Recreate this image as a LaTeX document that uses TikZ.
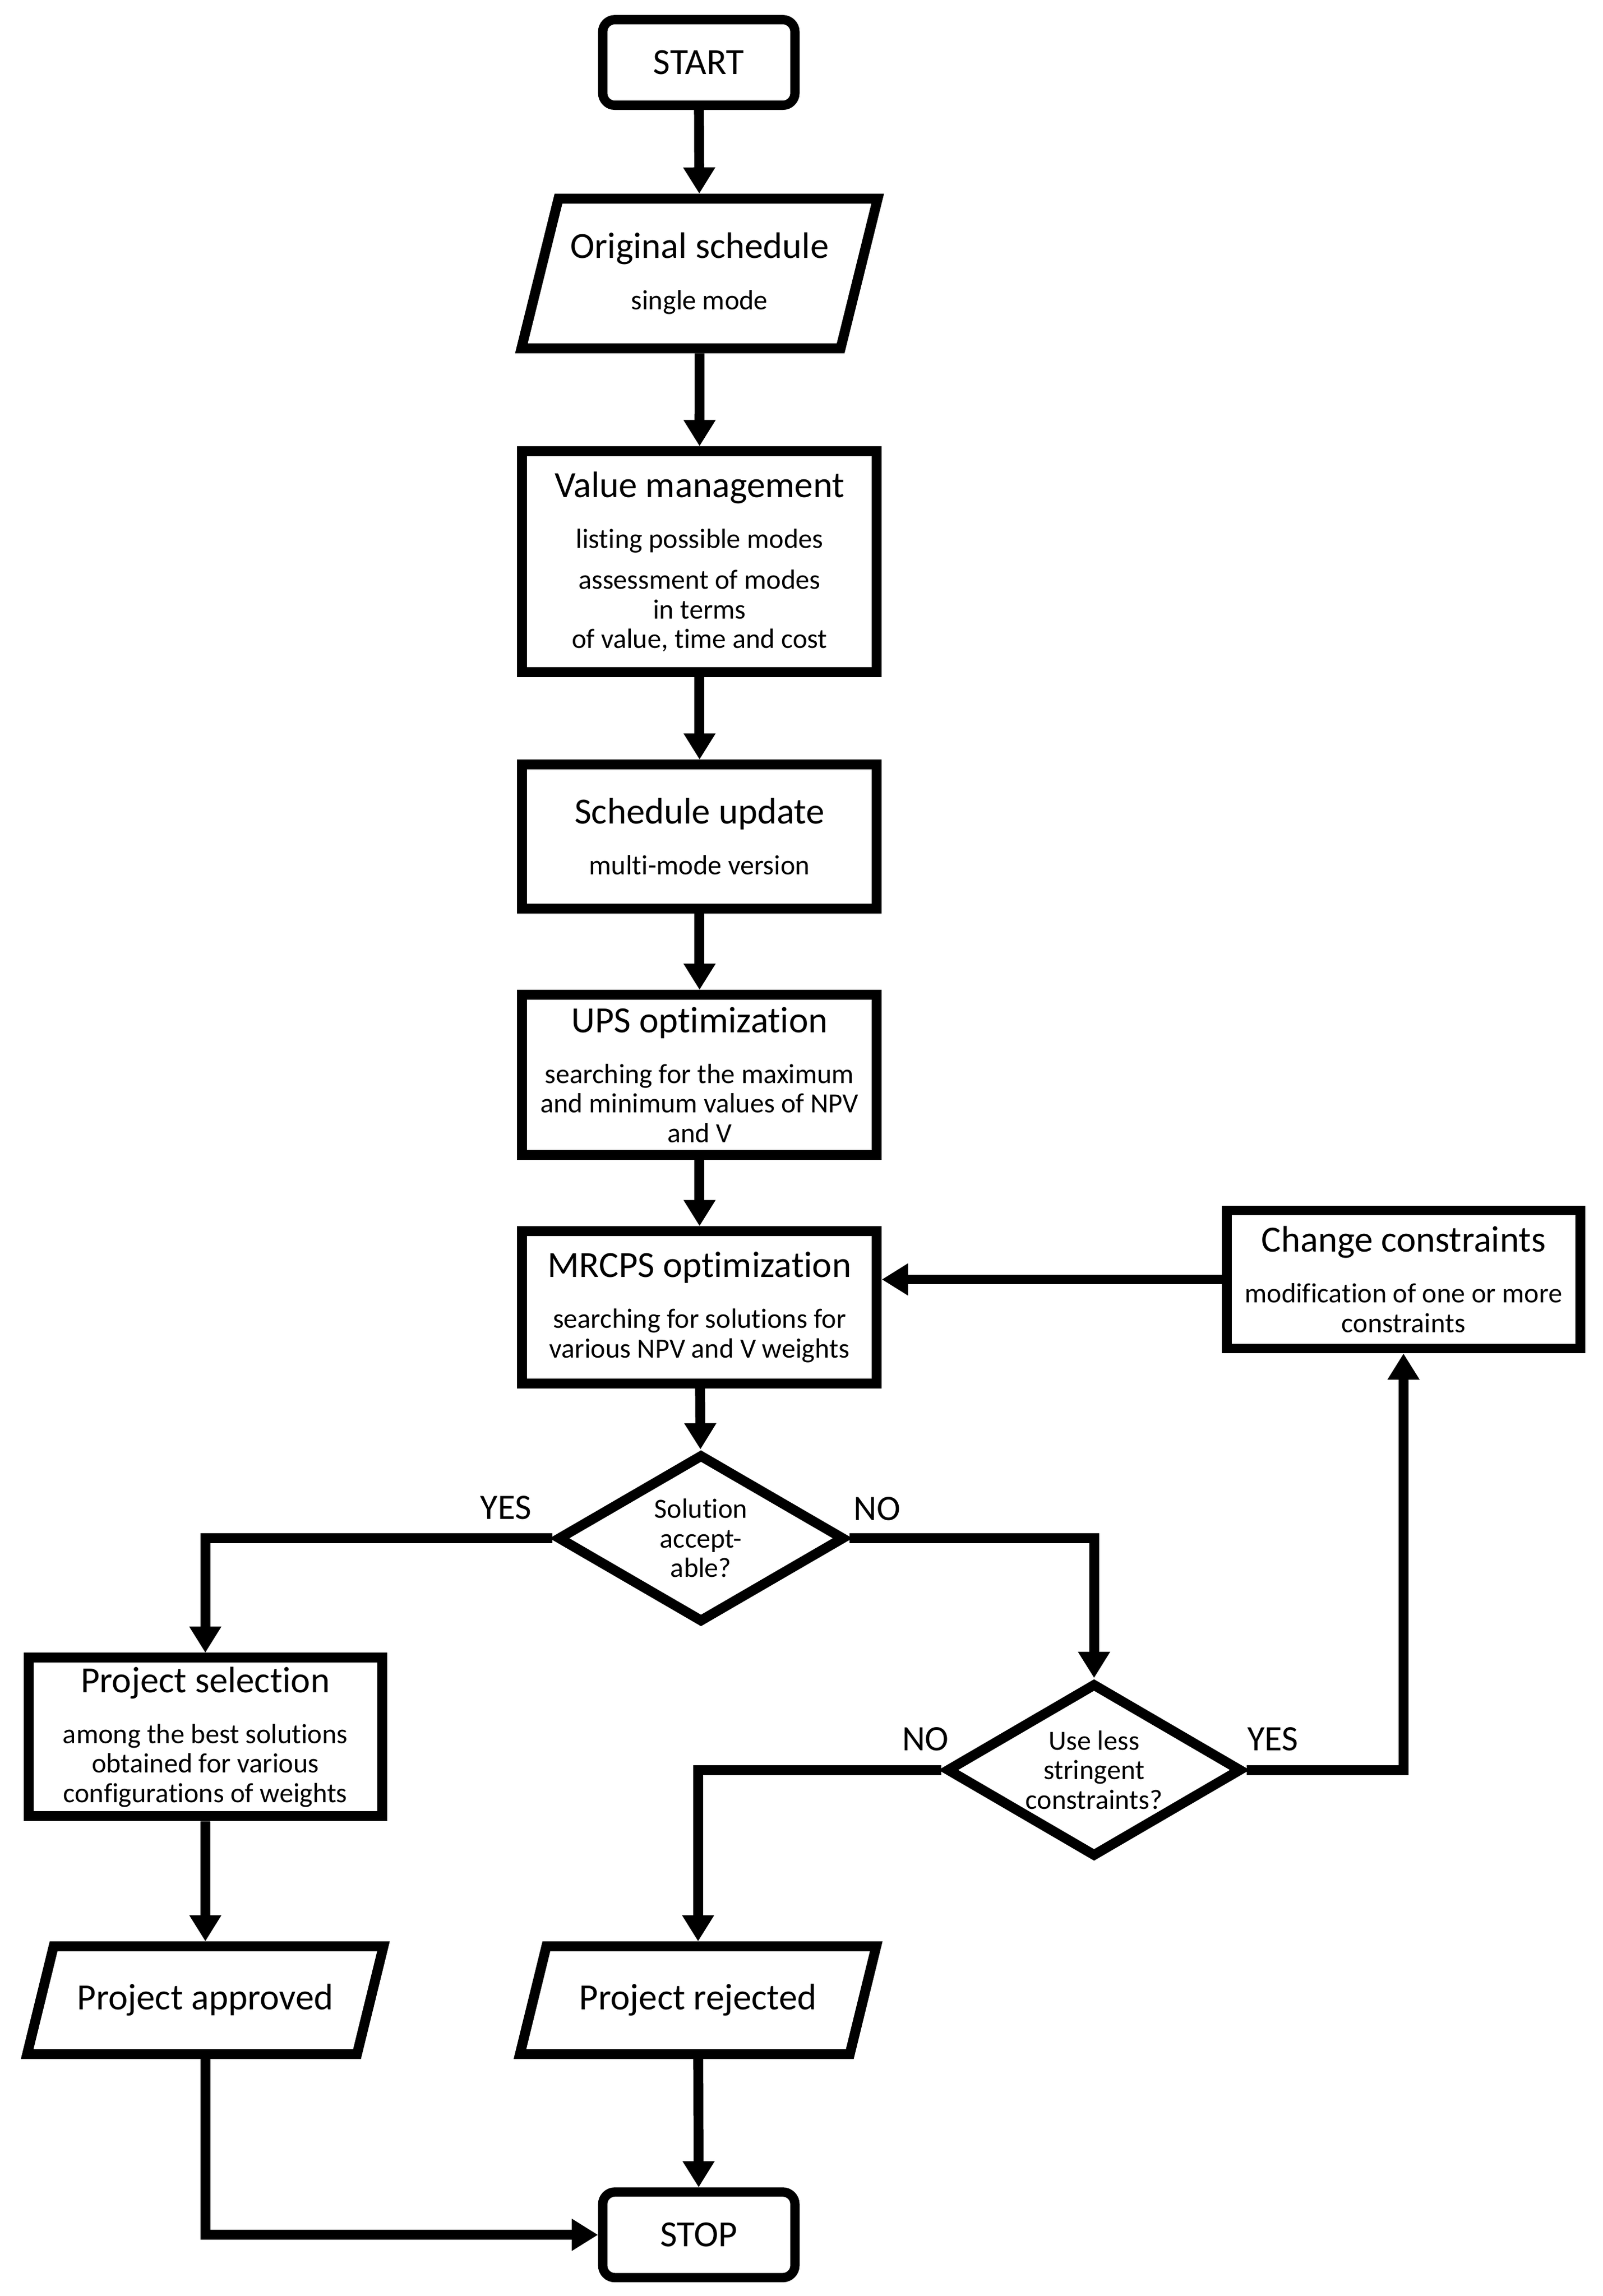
\documentclass[tikz,border=0pt]{standalone}
\usepackage{fontspec}
\setmainfont{Carlito}[Ligatures=NoCommon]
\usetikzlibrary{shapes.geometric,arrows.meta}

\newcommand{\ttlfont}{\fontsize{19}{22}\selectfont}
\newcommand{\ttl}[1]{{\ttlfont #1}}

\tikzset{
  every node/.style={font=\fontsize{14.3}{15.2}\selectfont},
  proc/.style={draw, rectangle, line width=5.1pt, align=center, minimum width=6.42cm, inner sep=0pt},
  terminal/.style={draw, rounded corners=0.22cm, line width=4.8pt, minimum width=3.48cm, minimum height=1.55cm, font=\ttlfont},
  io/.style={draw, trapezium, trapezium left angle=76, trapezium right angle=104, trapezium stretches body,
             line width=5.1pt, align=center, inner xsep=0pt, minimum width=6.45cm},
  decision/.style={draw, diamond, line width=5.1pt, align=center, inner sep=0pt},
  arr/.style={line width=5.1pt, -{Triangle[width=15.6pt,length=13.5pt]}},
  lbl/.style={font=\fontsize{18.4}{20}\selectfont},
}

\begin{document}
\begin{tikzpicture}[x=0.02655cm, y=-0.02655cm]
\useasboundingbox (0,0) rectangle (29.02cm,-41.57cm);

% main column
\node[terminal] (start) at (476.5,42.6) {START};
\node[io, minimum height=2.71cm, inner ysep=0.61cm] (orig) at (477,186.5)
  {\ttl{Original schedule}\\[11pt] single mode};
\node[proc, minimum height=4.0cm] (value) at (477,383)
  {\ttl{Value management}\\[11pt] listing possible modes\\[6pt] assessment of modes\\ in terms\\ of value, time and cost};
\node[proc, minimum height=2.61cm] (sched) at (477,570.5)
  {\ttl{Schedule update}\\[11pt] multi-mode version};
\node[proc, minimum height=2.9cm] (ups) at (477,733)
  {\ttl{UPS optimization}\\[11pt] searching for the maximum\\ and minimum values of NPV\\ and V};
\node[proc, minimum height=2.76cm] (mrcps) at (477,891.5)
  {\ttl{MRCPS optimization}\\[11pt] searching for solutions for\\ various NPV and V weights};
\node[proc, minimum width=6.4cm, minimum height=2.5cm] (change) at (957,872.5)
  {\ttl{Change constraints}\\[11pt] modification of one or more\\ constraints};

% decisions
\node[decision, minimum width=5.2cm, minimum height=3.05cm, aspect=1.7] (acc) at (478,1049)
  {Solution\\ accept-\\ able?};
\node[decision, minimum width=5.35cm, minimum height=3.15cm, aspect=1.7] (less) at (746,1207)
  {Use less\\ stringent\\ constraints?};

% outcomes
\node[proc, minimum width=6.4cm, minimum height=2.87cm] (select) at (140,1184.5)
  {\ttl{Project selection}\\[11pt] among the best solutions\\ obtained for various\\ configurations of weights};
\node[io, minimum height=1.95cm, inner ysep=0.67cm, font=\ttlfont] (approved) at (140,1364) {Project approved};
\node[io, minimum height=1.95cm, inner ysep=0.67cm, font=\ttlfont] (rejected) at (476,1364) {Project rejected};
\node[terminal] (stop) at (476.5,1524) {STOP};

% branch labels
\node[lbl] (yesacc) at (345,1028) {YES};
\node[lbl] (noacc) at (598,1029) {NO};
\node[lbl] (noless) at (631,1186) {NO};
\node[lbl] (yesless) at (868,1186) {YES};

% connectors
\draw[arr] (start) -- (orig);
\draw[arr] (orig) -- (value);
\draw[arr] (value) -- (sched);
\draw[arr] (sched) -- (ups);
\draw[arr] (ups) -- (mrcps);
\draw[arr] (mrcps) -- (acc);
\draw[arr] (change.west) -- (change.west -| mrcps.east);
\draw[arr] (acc.west) -| (select.north);
\draw[arr] (acc.east) -| (less.north);
\draw[arr] (less.west) -| (rejected.north);
\draw[arr] (less.east) -| (change.south);
\draw[arr] (select) -- (approved);
\draw[arr] (approved.south) |- (stop.west);
\draw[arr] (rejected) -- (stop);
\end{tikzpicture}
\end{document}
